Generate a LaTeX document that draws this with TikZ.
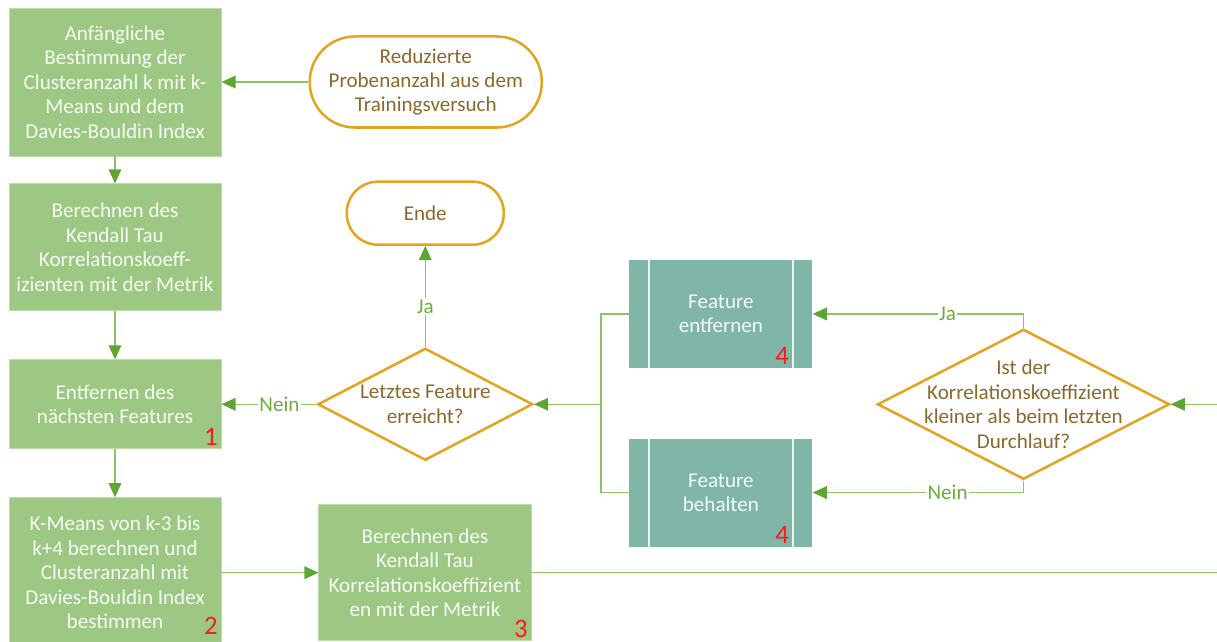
\documentclass[tikz,border=0pt]{standalone}
\usepackage{fontspec}
\setmainfont{Carlito}
\usetikzlibrary{positioning, arrows.meta, shapes.geometric}
\definecolor{boxgreen}{HTML}{9DC883}
\definecolor{boxedge}{HTML}{BDDCA9}
\definecolor{predteal}{HTML}{7FB6A8}
\definecolor{termorange}{HTML}{E2A521}
\definecolor{termtext}{HTML}{8A6A2C}
\definecolor{linegreen}{HTML}{8DC26A}
\definecolor{tipgreen}{HTML}{5EA533}
\definecolor{lblgreen}{HTML}{6AAE3E}
\definecolor{numred}{HTML}{FF1A1A}
\tikzset{
  >={Triangle[length=10pt,width=9pt,color=tipgreen]},
  every node/.style={font=\fontsize{15}{17.4}\selectfont, align=center},
  process/.style={rectangle, fill=boxgreen, draw=boxedge, line width=0.6pt,
    text=white!92!boxgreen, minimum width=5.3cm, inner sep=2pt},
  predef/.style={rectangle, fill=predteal, text=white!92!predteal,
    minimum width=4.575cm, minimum height=2.7cm},
  divider/.style={draw=white!85!predteal, line width=1.2pt},
  terminal/.style={rectangle, draw=termorange, line width=1.8pt, fill=white,
    text=termtext},
  decision/.style={diamond, draw=termorange, line width=1.8pt, fill=white,
    inner sep=0pt},
  dtext/.style={text=termtext},
  num/.style={text=numred, font=\fontsize{19}{19}\selectfont, inner sep=2.5pt},
  line/.style={draw=linegreen, line width=0.9pt},
  flow/.style={line, ->},
  lbl/.style={fill=white, text=lblgreen, inner sep=1pt},
}

\begin{document}
\begin{tikzpicture}[x=0.025cm, y=-0.025cm]
  \useasboundingbox (0,0) rectangle (1217,642);

  % left column
  \node[process, minimum height=3.7cm] (a) at (115,82)
    {Anfängliche\\Bestimmung der\\Clusteranzahl k mit k-\\Means und dem\\Davies-Bouldin Index};
  \node[process, minimum height=3.175cm, below=0.675cm of a] (b)
    {Berechnen des\\Kendall Tau\\Korrelationskoeff-\\izienten mit der Metrik};
  \node[process, minimum height=2.225cm, below=1.2cm of b] (c)
    {Entfernen des\\nächsten Features};
  \node[process, minimum height=3.75cm, below=1.2cm of c] (d)
    {K-Means von k-3 bis\\k+4 berechnen und\\Clusteranzahl mit\\Davies-Bouldin Index\\bestimmen};
  \node[process, minimum height=3.4cm, right=2.425cm of d] (e)
    {Berechnen des\\Kendall Tau\\Korrelationskoeffizient\\en mit der Metrik};

  % start and end
  \node[terminal, minimum width=5.8cm, minimum height=2.275cm, rounded corners=1.13cm,
    right=2.175cm of a] (r) {Reduzierte\\Probenanzahl aus dem\\Trainingsversuch};
  \node[decision, minimum width=5.375cm, minimum height=2.8cm, right=2.375cm of c] (d1) {};
  \node[dtext] (d1t) at (d1) {Letztes Feature\\erreicht?};
  \node[terminal, minimum width=3.925cm, minimum height=1.575cm, rounded corners=0.78cm,
    above=2.525cm of d1] (ende) {Ende};

  % feature decision
  \coordinate[right=1.675cm of d1] (jn);
  \node[predef, above right=0.9cm and 0.7cm of jn] (fe) {Feature\\entfernen};
  \node[predef, below right=0.85cm and 0.7cm of jn] (fb) {Feature\\behalten};
  \foreach \p in {fe,fb} {
    \draw[divider] ([xshift=0.5cm]\p.north west) -- ([xshift=0.5cm]\p.south west);
    \draw[divider] ([xshift=-0.5cm]\p.north east) -- ([xshift=-0.5cm]\p.south east);
  }
  \node[decision, minimum width=7.3cm, minimum height=3.75cm, right=6.875cm of jn] (d2) {};
  \node[dtext] (d2t) at (d2) {Ist der\\Korrelationskoeffizient\\kleiner als beim letzten\\Durchlauf?};

  % step numbers
  \node[num, anchor=south east] (n1) at (c.south east) {1};
  \node[num, anchor=south east] (n2) at ([yshift=0.25cm]d.south east) {2};
  \node[num, anchor=south east] (n3) at (e.south east) {3};
  \node[num, anchor=south east] (n4a) at ([xshift=-0.5cm]fe.south east) {4};
  \node[num, anchor=south east] (n4b) at ([xshift=-0.5cm]fb.south east) {4};

  % connections
  \coordinate (back) at (1245,0);
  \draw[flow] (r) -- (a);
  \draw[flow] (a) -- (b);
  \draw[flow] (b) -- (c);
  \draw[flow] (c) -- (d);
  \draw[flow] (d) -- (e);
  \draw[flow] (e.east) -- (e.east -| back) |- (d2.east);
  \draw[flow] (d2.north) |- node[lbl, pos=0.68] (ja2) {Ja} (fe.east);
  \draw[flow] (d2.south) |- node[lbl, pos=0.68] (nein2) {Nein} (fb.east);
  \draw[line] (fe.west) -| (jn);
  \draw[line] (fb.west) -| (jn);
  \draw[flow] (jn) -- (d1.east);
  \draw[flow] (d1.north) -- node[lbl, pos=0.4] (ja1) {Ja} (ende.south);
  \draw[flow] (d1.west) -- node[lbl, pos=0.39] (nein1) {Nein} (c.east);
\end{tikzpicture}
\end{document}
